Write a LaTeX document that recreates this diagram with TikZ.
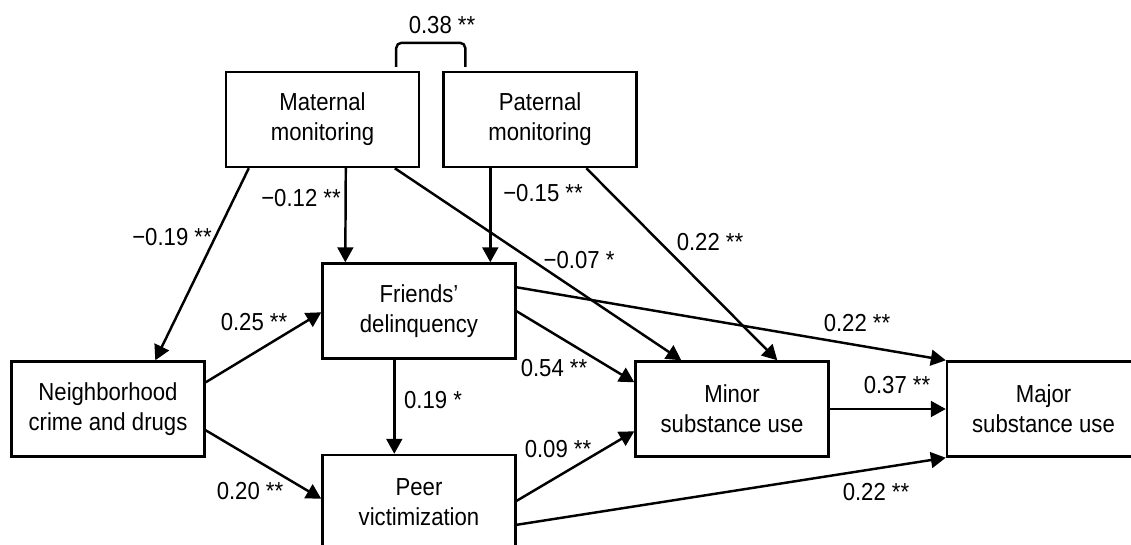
\documentclass[tikz,border=0pt]{standalone}
\usepackage{fontspec}
\setmainfont{Liberation Sans}[FakeStretch=0.9]
\usetikzlibrary{arrows.meta, calc}

\begin{document}
\begin{tikzpicture}[
            x = 0.02cm, y = -0.02cm, % one unit per pixel, y downwards
            > = {Triangle[length=8.5pt, width=9pt]}, % arrow head style
            line width = 1.4pt, % line style
            font = \fontsize{14}{17}\selectfont
        ]

        \tikzstyle{var}=[
            draw = black,
            fill = white,
            align = center,
            minimum width = 3.86cm,
            minimum height = 1.9cm
        ]
        \tikzstyle{coef}=[inner sep = 0pt]

        \useasboundingbox (0,0) rectangle (1131,544);

        \node[var] (mat) at (322.5,119.5) {Maternal\\monitoring};
        \node[var] (pat) at (540,119.5) {Paternal\\monitoring};
        \node[var] (fri) at (419,311) {Friends’\\delinquency};
        \node[var] (nbh) at (108,409) {Neighborhood\\crime and drugs};
        \node[var] (peer) at (419,502.5) {Peer\\victimization};
        \node[var] (minor) at (732,409) {Minor\\substance use};
        \node[var] (major) at (1043.5,409) {Major\\substance use};

        % correlation between the parents
        \draw[rounded corners = 3pt] ($(mat.north east)+(-24,-4)$) -- ++(0,-24) -| ($(pat.north west)+(23,-4)$);
        \node[coef] (c38) at (442,25) {0.38 **};

        % paths
        \draw[->] ($(mat.south west)+(24,0)$) -- ($(nbh.north west)+(145,0)$);
        \draw[->] ($(mat.south west)+(121,0)$) -- ($(fri.north west)+(24,0)$);
        \draw[->] ($(pat.south west)+(48,0)$) -- ($(fri.north west)+(169,0)$);
        \draw[->] ($(mat.south west)+(170,0)$) -- ($(minor.north west)+(47,0)$);
        \draw[->] ($(pat.south west)+(144,0)$) -- ($(minor.north west)+(143,0)$);
        \draw[->] ($(fri.north east)+(0,25)$) -- (major.north west);
        \draw[->] ($(fri.north east)+(0,49)$) -- ($(minor.north west)+(0,22)$);
        \draw[->] ($(nbh.north east)+(0,22)$) -- ($(fri.north west)+(0,50)$);
        \draw[->] ($(nbh.north east)+(0,70)$) -- ($(peer.north west)+(0,45)$);
        \draw[->] ($(fri.south west)+(73,0)$) -- ($(peer.north west)+(73,0)$);
        \draw[->] ($(peer.north east)+(0,47)$) -- ($(minor.north west)+(0,71)$);
        \draw[->] ($(peer.north east)+(0,71)$) -- (major.south west);
        \draw[->] (minor) -- (major);

        % coefficients
        \node[coef] (c19m) at (172,237) {−0.19 **};
        \node[coef] (c12m) at (301,198) {−0.12 **};
        \node[coef] (c15m) at (543,193) {−0.15 **};
        \node[coef] (c07m) at (579,260) {−0.07 *};
        \node[coef] (c22a) at (710,242) {0.22 **};
        \node[coef] (c22b) at (857,323) {0.22 **};
        \node[coef] (c54) at (554,368) {0.54 **};
        \node[coef] (c25) at (254,322) {0.25 **};
        \node[coef] (c20) at (250,491) {0.20 **};
        \node[coef] (c19) at (433,400) {0.19 *};
        \node[coef] (c09) at (558,449) {0.09 **};
        \node[coef] (c37) at (897,385) {0.37 **};
        \node[coef] (c22c) at (876,492) {0.22 **};

  \end{tikzpicture}
\end{document}
